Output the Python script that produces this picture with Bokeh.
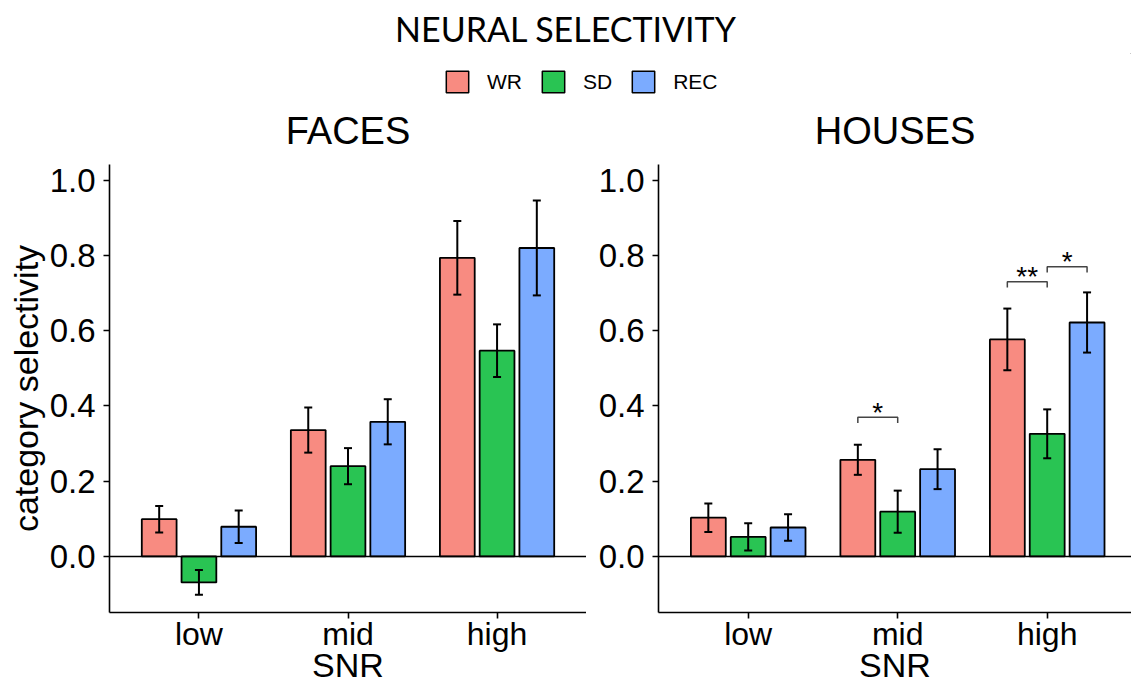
from bokeh.plotting import figure
from bokeh.models import (ColumnDataSource, Whisker, TeeHead, Span, FixedTicker,
                          Range1d, Legend, LegendItem, PrintfTickFormatter)
from bokeh.layouts import column, row
from bokeh.embed import file_html
from bokeh.resources import INLINE
from bokeh.core.properties import value

# ---------------- data ----------------
groups = ["low", "mid", "high"]
series = ["WR", "SD", "REC"]
series_colors = ["#F88B81", "#29C453", "#7BABFF"]

faces_WR = [0.099, 0.336, 0.794]
faces_WR_se = [0.035, 0.060, 0.098]
faces_SD = [-0.069, 0.240, 0.547]
faces_SD_se = [0.033, 0.048, 0.070]
faces_REC = [0.079, 0.358, 0.820]
faces_REC_se = [0.043, 0.060, 0.126]

houses_WR = [0.103, 0.257, 0.577]
houses_WR_se = [0.038, 0.040, 0.082]
houses_SD = [0.052, 0.119, 0.326]
houses_SD_se = [0.036, 0.056, 0.065]
houses_REC = [0.077, 0.232, 0.622]
houses_REC_se = [0.035, 0.053, 0.080]

# significance brackets (houses panel)
sig_group = ["mid", "high", "high"]
sig_from = ["WR", "WR", "SD"]
sig_to = ["SD", "SD", "REC"]
sig_y = [0.370, 0.730, 0.770]
sig_label = ["*", "**", "*"]

y_ticks = [0.0, 0.2, 0.4, 0.6, 0.8, 1.0]

# ---------------- style ----------------
FONT = "Liberation Sans"
DODGE = 0.8 / 3
BAR_W = 0.7 / 3
TOTAL_H = 687
HEADER_H = 95


def xpos(g, s):
    return groups.index(g) + 1 + (series.index(s) - 1) * DODGE


def make_panel(title, data, width, border_left, x_end, ylabel):
    p = figure(width=width, height=TOTAL_H - HEADER_H,
               x_range=Range1d(0.4, x_end), y_range=Range1d(-0.149, 1.042),
               output_backend="svg", toolbar_location=None,
               min_border_left=border_left, min_border_right=0,
               min_border_top=68, min_border_bottom=75)
    p.title.text = title
    p.title.align = "center"
    p.title.text_font = FONT
    p.title.text_font_size = "38px"
    p.title.text_font_style = "normal"
    p.title.text_color = "black"
    p.title.standoff = 25
    p.outline_line_color = None
    p.grid.visible = False
    p.background_fill_color = "white"
    p.border_fill_color = "white"

    for si, s in enumerate(series):
        means, ses = data[s]
        xs = [xpos(g, s) for g in groups]
        src = ColumnDataSource(dict(
            x=xs, top=means,
            upper=[m + e for m, e in zip(means, ses)],
            lower=[m - e for m, e in zip(means, ses)]))
        p.vbar(x="x", top="top", bottom=0, width=BAR_W, source=src,
               fill_color=series_colors[si], line_color="black", line_width=1.8)
        w = Whisker(source=src, base="x", upper="upper", lower="lower",
                    line_color="black", line_width=2,
                    upper_head=TeeHead(size=8, line_color="black", line_width=2),
                    lower_head=TeeHead(size=8, line_color="black", line_width=2))
        w.level = "annotation"
        p.add_layout(w)

    p.add_layout(Span(location=0, dimension="width", line_color="black",
                      line_width=1.6))

    for ax in (p.xaxis[0], p.yaxis[0]):
        ax.axis_line_color = "black"
        ax.axis_line_width = 1.6
        ax.major_tick_line_color = "black"
        ax.major_tick_line_width = 1.6
        ax.major_tick_out = 6
        ax.major_tick_in = 0
        ax.minor_tick_line_color = None
        ax.major_label_text_font = FONT
        ax.major_label_text_font_size = "32px"
        ax.major_label_text_color = "black"
        ax.axis_label_text_font = FONT
        ax.axis_label_text_font_size = "34px"
        ax.axis_label_text_font_style = "normal"
        ax.axis_label_text_color = "black"

    p.xaxis.ticker = FixedTicker(ticks=[1, 2, 3])
    p.xaxis.major_label_overrides = {i + 1: g for i, g in enumerate(groups)}
    p.xaxis.axis_label = "SNR"
    p.xaxis.major_label_standoff = -3
    p.xaxis.axis_label_standoff = -9

    p.yaxis.ticker = FixedTicker(ticks=y_ticks)
    p.yaxis.formatter = PrintfTickFormatter(format="%.1f")
    p.yaxis.major_label_standoff = 8
    p.yaxis.major_label_text_font_size = "33px"
    if ylabel:
        p.yaxis.axis_label = ylabel
        p.yaxis.axis_label_standoff = 2
    return p


left = make_panel("FACES",
                  {"WR": (faces_WR, faces_WR_se), "SD": (faces_SD, faces_SD_se),
                   "REC": (faces_REC, faces_REC_se)},
                  width=586, border_left=109, x_end=3.6,
                  ylabel="category selectivity")
right = make_panel("HOUSES",
                   {"WR": (houses_WR, houses_WR_se), "SD": (houses_SD, houses_SD_se),
                    "REC": (houses_REC, houses_REC_se)},
                   width=545, border_left=72, x_end=0.4 + 473 / 149.5,
                   ylabel=None)

# significance brackets
tick = 0.015
bxs, bys, tx, ty = [], [], [], []
for g, a, b, y in zip(sig_group, sig_from, sig_to, sig_y):
    x1, x2 = xpos(g, a), xpos(g, b)
    bxs.append([x1, x1, x2, x2])
    bys.append([y - tick, y, y, y - tick])
    tx.append((x1 + x2) / 2)
    ty.append(y)
right.multi_line(xs=bxs, ys=bys, line_color="#444444", line_width=1.5)
right.text(x=tx, y=ty, text=sig_label, text_align="center",
           text_baseline="alphabetic", text_font=value(FONT),
           text_font_size="28px", text_color="black", y_offset=-5)

# ---------------- header (title + legend) ----------------
header = figure(width=1131, height=HEADER_H, x_range=Range1d(0, 1),
                y_range=Range1d(0, 1), output_backend="svg",
                toolbar_location=None, min_border=0)
header.title.text = "NEURAL SELECTIVITY"
header.title.align = "center"
header.title.text_font = "Lato"
header.title.text_font_size = "34px"
header.title.text_font_style = "normal"
header.title.text_color = "black"
header.axis.visible = False
header.grid.visible = False
header.outline_line_color = None

items = []
for s, c in zip(series, series_colors):
    r = header.vbar(x=[5], top=[5], bottom=[4], width=0.1, fill_color=c,
                    line_color="black", line_width=1.5)
    items.append(LegendItem(label=s, renderers=[r]))
legend = Legend(items=items, orientation="horizontal", location=(443, 0),
                glyph_width=28, glyph_height=27, label_standoff=16, spacing=17,
                padding=0, margin=0, border_line_color=None,
                background_fill_alpha=0, label_text_font=FONT,
                label_text_font_size="21px", label_text_color="black")
header.add_layout(legend)

layout = column(header, row(left, right))

with open("out.html", "w") as f:
    f.write(file_html(layout, INLINE))
